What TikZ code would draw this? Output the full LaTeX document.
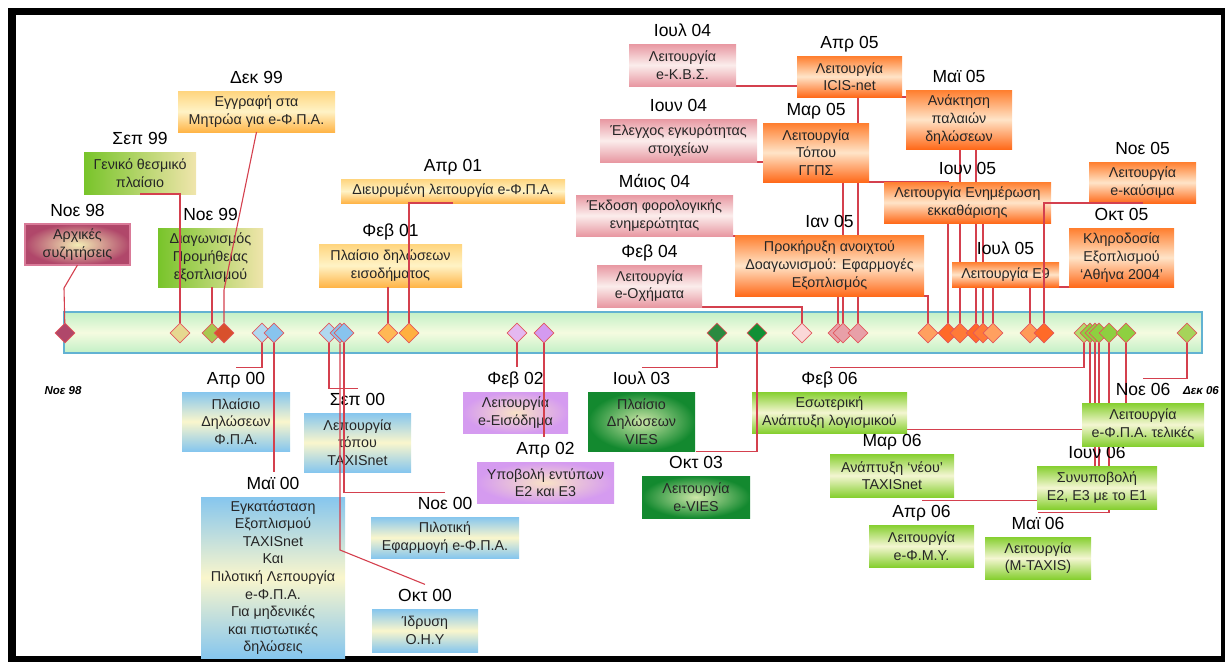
\documentclass[tikz,border=0pt]{standalone}
\usepackage{fontspec}
\setmainfont{Liberation Sans}
\usetikzlibrary{shapes.geometric}

\definecolor{linkred}{HTML}{D4404E}
\definecolor{baredge}{HTML}{62B2D2}
\definecolor{bargreen}{HTML}{C2F0C6}
\definecolor{barpale}{HTML}{F5FBE0}
\definecolor{dmdedge}{HTML}{E2585E}
\definecolor{boxtext}{HTML}{262626}
\definecolor{cblue}{HTML}{86C6EE}
\definecolor{cpale}{HTML}{FAF6CC}
\definecolor{cyeltop}{HTML}{FFD57E}
\definecolor{cyelmid}{HTML}{FFF3C6}
\definecolor{cyelbot}{HTML}{FFB548}
\definecolor{cpink}{HTML}{E898A2}
\definecolor{cpinkmid}{HTML}{FBEDEC}
\definecolor{corgtop}{HTML}{FF7E2E}
\definecolor{corgmid}{HTML}{FFE4C8}
\definecolor{corgbot}{HTML}{FF6A1A}
\definecolor{cgreen}{HTML}{86CF30}
\definecolor{cgreenmid}{HTML}{F4F6D2}
\definecolor{cgyleft}{HTML}{78C42A}
\definecolor{cgyright}{HTML}{F0E5AC}
\definecolor{cpurple}{HTML}{D59BF0}
\definecolor{cpurplein}{HTML}{F9E2C6}
\definecolor{cdkgreen}{HTML}{13892F}
\definecolor{cdkgreenin}{HTML}{CDE7A8}
\definecolor{ccrimson}{HTML}{B0476A}
\definecolor{ccrimsonin}{HTML}{F3EDB5}
\definecolor{ccrimsonedge}{HTML}{D97A98}
\definecolor{dolive}{HTML}{E6D890}
\definecolor{dlime}{HTML}{A8C850}
\definecolor{dred}{HTML}{D8502C}
\definecolor{dsky}{HTML}{B0D8F0}
\definecolor{dblue}{HTML}{88C4EE}
\definecolor{dgold}{HTML}{FFB855}
\definecolor{damber}{HTML}{FFB040}
\definecolor{dlilac}{HTML}{E4B8F0}
\definecolor{dviolet}{HTML}{D49AF0}
\definecolor{dforest}{HTML}{2A8A40}
\definecolor{demerald}{HTML}{119035}
\definecolor{dblush}{HTML}{FAD8D8}
\definecolor{drose}{HTML}{E8A0A8}
\definecolor{dpeach}{HTML}{FFA060}
\definecolor{dflame}{HTML}{FF6A28}
\definecolor{dtangerine}{HTML}{FF7A38}
\definecolor{dapricot}{HTML}{FF9A58}
\definecolor{dpistachio}{HTML}{B4DC6C}
\definecolor{dleaf}{HTML}{8ED040}
\definecolor{dsprout}{HTML}{A6D45A}

\pgfdeclarelayer{bar}
\pgfdeclarelayer{links}
\pgfdeclarelayer{front}
\pgfsetlayers{bar,links,main,front}

\begin{document}
\begin{tikzpicture}[x=1pt,y=-1pt,
  box/.style={rectangle, inner sep=0pt, outer sep=0pt, align=center, text=boxtext,
    font=\fontsize{14.3}{17.6}\selectfont, label distance=-2.7pt},
  wh/.style 2 args={minimum width=#1pt, minimum height=#2pt},
  datelbl/.style={inner xsep=0pt, inner ysep=4pt, text height=12.5pt, text depth=3.7pt,
    font=\fontsize{17.5}{20}\selectfont, text=black},
  bluebox/.style={box, top color=cblue, bottom color=cblue, middle color=cpale},
  yelbox/.style={box, top color=cyeltop, bottom color=cyelbot, middle color=cyelmid},
  pinkbox/.style={box, top color=cpink, bottom color=cpink, middle color=cpinkmid},
  orgbox/.style={box, top color=corgtop, bottom color=corgbot, middle color=corgmid},
  greenbox/.style={box, top color=cgreen, bottom color=cgreen, middle color=cgreenmid},
  gybox/.style={box, left color=cgyleft, right color=cgyright},
  purbox/.style={box, outer color=cpurple, inner color=cpurplein},
  dkgbox/.style={box, outer color=cdkgreen, inner color=cdkgreenin},
  crimbox/.style={box, outer color=ccrimson, inner color=ccrimsonin, draw=ccrimsonedge, line width=1.2pt},
  ev/.style={diamond, aspect=1, minimum width=20pt, minimum height=20pt, inner sep=0pt,
    draw=dmdedge, line width=0.7pt, fill=#1},
  tag/.style={font=\bfseries\itshape\fontsize{11.5}{13}\selectfont, inner sep=0pt},
  link/.style={draw=linkred, line width=1.1pt}]

\useasboundingbox (0,0) rectangle (1225,662);
\fill[black] (8,8) rectangle (1225,15);
\fill[black] (8,8) rectangle (16,662);
\fill[black] (8,656) rectangle (1225,662);
\fill[black] (1221,8) rectangle (1225,662);

\begin{pgfonlayer}{bar}
\draw[draw=baredge, line width=1.6pt, top color=bargreen, bottom color=bargreen, middle color=barpale]
  (64,312) rectangle (1202,353);
\end{pgfonlayer}

\node[ev=ccrimson] (d98n) at (65,333) {};
\node[ev=dolive] (d99s) at (180,333) {};
\node[ev=dlime] (d99n) at (212,333) {};
\node[ev=dred] (d99d) at (224,333) {};
\node[ev=dsky] (d00a) at (262,333) {};
\node[ev=dblue] (d00m) at (274,333) {};
\node[ev=dsky] (d00s) at (329,333) {};
\node[ev=dblue] (d00o) at (340,333) {};
\node[ev=dblue] (d00n) at (344,333) {};
\node[ev=dgold] (d01f) at (388,333) {};
\node[ev=damber] (d01a) at (409,333) {};
\node[ev=dlilac] (d02f) at (517,333) {};
\node[ev=dviolet] (d02a) at (544,333) {};
\node[ev=dforest] (d03j) at (717,333) {};
\node[ev=demerald] (d03o) at (757,333) {};
\node[ev=dblush] (d04f) at (802,333) {};
\node[ev=drose] (d04m) at (838,333) {};
\node[ev=drose] (d04j) at (843,333) {};
\node[ev=drose] (d04l) at (858,333) {};
\node[ev=dpeach] (d05j) at (928,333) {};
\node[ev=dflame] (d05m) at (948,333) {};
\node[ev=dtangerine] (d05a) at (960,333) {};
\node[ev=dflame] (d05y) at (976,333) {};
\node[ev=dtangerine] (d05u) at (983,333) {};
\node[ev=dpeach] (d05l) at (993,333) {};
\node[ev=dapricot] (d05o) at (1030,333) {};
\node[ev=dflame] (d05n) at (1044,333) {};
\node[ev=dpistachio] (d06f) at (1084,333) {};
\node[ev=dleaf] (d06m) at (1090,333) {};
\node[ev=dleaf] (d06u) at (1095,333) {};
\node[ev=dleaf] (d06a) at (1099,333) {};
\node[ev=dleaf] (d06y) at (1109,333) {};
\node[ev=dleaf] (d06n) at (1126,333) {};
\node[ev=dsprout] (d06d) at (1187,333) {};

\node[crimbox, wh={105}{41}, label={[datelbl,name=noe98l]above:Νοε 98}] (noe98) at (77.5,244.5) {Αρχικές\\συζητήσεις};
\node[gybox, wh={112}{42}, label={[datelbl,name=sep99l]above:Σεπ 99}] (sep99) at (140,173) {Γενικό θεσμικό\\πλαίσιο};
\node[gybox, wh={105}{59}, label={[datelbl,name=noe99l]above:Νοε 99}] (noe99) at (210.5,257.5) {Διαγωνισμός\\Προμήθειας\\εξοπλισμού};
\node[yelbox, wh={157}{41}, label={[datelbl,name=dek99l]above:Δεκ 99}] (dek99) at (256.5,111.5) {Εγγραφή στα\\Μητρώα για e-Φ.Π.Α.};
\node[bluebox, wh={108}{59}, label={[datelbl,name=apr00l]above:Απρ 00}] (apr00) at (236,421.5) {Πλαίσιο\\Δηλώσεων\\Φ.Π.Α.};
\node[bluebox, wh={144}{161}, label={[datelbl,name=mai00l]above:Μαϊ 00}] (mai00) at (273,577.5) {Εγκατάσταση\\Εξοπλισμού\\TAXISnet\\Και\\Πιλοτική Λεπουργία\\e-Φ.Π.Α.\\Για μηδενικές\\και πιστωτικές\\δηλώσεις};
\node[bluebox, wh={107}{59}, label={[datelbl,name=sep00l]above:Σεπ 00}] (sep00) at (357.5,442.5) {Λεπουργία\\τόπου\\TAXISnet};
\node[bluebox, wh={106}{43}, label={[datelbl,name=okt00l]above:Οκτ 00}] (okt00) at (425,630.5) {Ίδρυση\\Ο.Η.Υ};
\node[bluebox, wh={148}{41}, label={[datelbl,name=noe00l]above:Νοε 00}] (noe00) at (445,537.5) {Πιλοτική\\Εφαρμογή e-Φ.Π.Α.};
\node[yelbox, wh={143}{43}, label={[datelbl,name=feb01l]above:Φεβ 01}] (feb01) at (390.5,265.5) {Πλαίσιο δηλώσεων\\εισοδήματος};
\node[yelbox, wh={224}{24}, label={[datelbl,name=apr01l]above:Απρ 01}] (apr01) at (453,191) {Διευρυμένη λειτουργία e-Φ.Π.Α.};
\node[purbox, wh={105}{41}, label={[datelbl,name=feb02l]above:Φεβ 02}] (feb02) at (515.5,412.5) {Λειτουργία\\e-Εισόδημα};
\node[purbox, wh={137}{41}, label={[datelbl,name=apr02l]above:Απρ 02}] (apr02) at (545.5,482.5) {Υποβολή εντύπων\\Ε2 και Ε3};
\node[dkgbox, wh={107}{59}, label={[datelbl,name=ioul03l]above:Ιουλ 03}] (ioul03) at (641.5,421.5) {Πλαίσιο\\Δηλώσεων\\VIES};
\node[dkgbox, wh={108}{42}, label={[datelbl,name=okt03l]above:Οκτ 03}] (okt03) at (696,497) {Λειτουργία\\e-VIES};
\node[pinkbox, wh={105}{42}, label={[datelbl,name=feb04l]above:Φεβ 04}] (feb04) at (649.5,286) {Λειτουργία\\e-Οχήματα};
\node[pinkbox, wh={157}{41}, label={[datelbl,name=maios04l]above:Μάιος 04}] (maios04) at (654.5,215.5) {Έκδοση φορολογικής\\ενημερώτητας};
\node[pinkbox, wh={157}{43}, label={[datelbl,name=ioun04l]above:Ιουν 04}] (ioun04) at (678.5,140.5) {Έλεγχος εγκυρότητας\\στοιχείων};
\node[pinkbox, wh={107}{42}, label={[datelbl,name=ioul04l]above:Ιουλ 04}] (ioul04) at (682.5,65) {Λειτουργία\\e-Κ.Β.Σ.};
\node[orgbox, wh={189}{61}, label={[datelbl,name=ian05l]above:Ιαν 05}] (ian05) at (829.5,265.5) {Προκήρυξη ανοιχτού\\Δοαγωνισμού: Εφαρμογές\\Εξοπλισμός};
\node[orgbox, wh={106}{59}, label={[datelbl,name=mar05l]above:Μαρ 05}] (mar05) at (816,152.5) {Λειτουργία\\Τόπου\\ΓΓΠΣ};
\node[orgbox, wh={105}{41}, label={[datelbl,name=apr05l]above:Απρ 05}] (apr05) at (849.5,76.5) {Λειτουργία\\ICIS-net};
\node[orgbox, wh={106}{59}, label={[datelbl,name=mai05l]above:Μαϊ 05}] (mai05) at (959,119.5) {Ανάκτηση\\παλαιών\\δηλώσεων};
\node[orgbox, wh={167}{41}, label={[datelbl,name=ioun05l]above:Ιουν 05}] (ioun05) at (967.5,202.5) {Λειτουργία Ενημέρωση\\εκκαθάρισης};
\node[orgbox, wh={107}{25}, label={[datelbl,name=ioul05l]above:Ιουλ 05}] (ioul05) at (1005.5,274.5) {Λειτουργία Ε9};
\node[orgbox, wh={105}{59}, label={[datelbl,name=okt05l]above:Οκτ 05}] (okt05) at (1121.5,257.5) {Κληροδοσία\\Εξοπλισμού\\`Αθήνα 2004'};
\node[orgbox, wh={107}{41}, label={[datelbl,name=noe05l]above:Νοε 05}] (noe05) at (1142.5,182.5) {Λειτουργία\\e-καύσιμα};
\node[greenbox, wh={155}{41}, label={[datelbl,name=feb06l]above:Φεβ 06}] (feb06) at (829.5,412.5) {Εσωτερική\\Ανάπτυξη λογισμικού};
\node[greenbox, wh={124}{43}, label={[datelbl,name=mar06l]above:Μαρ 06}] (mar06) at (892,475.5) {Ανάπτυξη `νέου'\\TAXISnet};
\node[greenbox, wh={105}{42}, label={[datelbl,name=apr06l]above:Απρ 06}] (apr06) at (921.5,546) {Λειτουργία\\e-Φ.Μ.Υ.};
\node[greenbox, wh={106}{42}, label={[datelbl,name=mai06l]above:Μαϊ 06}] (mai06) at (1038,558) {Λειτουργία\\(M-TAXIS)};
\node[greenbox, wh={120}{43}, label={[datelbl,name=ioun06l]above:Ιουν 06}] (ioun06) at (1097,487.5) {Συνυποβολή\\Ε2, Ε3 με το Ε1};
\node[greenbox, wh={122}{43}, label={[datelbl,name=noe06l]above:Νοε 06}] (noe06) at (1143,424.5) {Λειτουργία\\e-Φ.Π.Α. τελικές};

\node[tag] (tagnoe98) at (63,391) {Νοε 98};
\node[tag] (tagdek06) at (1201,391) {Δεκ 06};

\begin{pgfonlayer}{front}
\draw[link] (noe98.south) -- ++(-13.5,23) -- (d98n);
\draw[link] (sep99.south) -| (d99s);
\draw[link] (noe99.south -| d99n) -- (d99n);
\draw[link] (dek99.south) -- ++(-32.5,158) -- (d99d);
\draw[link] (d00a) |- (apr00l.north);
\draw[link] (d00m) -- (d00m |- mai00l.north);
\draw[link] (d00s) |- (sep00l.north);
\draw[link] (d00o) -- ++(0,217) -- (okt00l.north);
\draw[link] (d00n) |- (noe00l.north);
\draw[link] (feb01.south -| d01f) -- (d01f);
\draw[link] (apr01.south) -| (d01a);
\draw[link] (d02f) -- (d02f |- feb02l.north);
\draw[link] (d02a) -- (d02a |- apr02l.north);
\draw[link] (d03j) |- (ioul03l.north);
\draw[link] (d03o) |- (okt03l.north);
\draw[link] (noe05.south) -| (d05n);
\end{pgfonlayer}

\begin{pgfonlayer}{links}
\draw[link] (feb04.south) -| (d04f);
\draw[link] (maios04.south) -| (d04m);
\draw[link] (ioun04.south) -| (d04j);
\draw[link] (ioul04.south) -| (d04l);
\draw[link] (ian05.south) -| (d05j);
\draw[link] (mar05.south) -| (d05m);
\draw[link] (apr05.south) -| (d05a);
\draw[link] (mai05.south -| d05y) -- (d05y);
\draw[link] (ioun05.south -| d05u) -- (d05u);
\draw[link] (ioul05.south) -| (d05l);
\draw[link] (okt05.south) -| (d05o);
\draw[link] (d06f) |- (feb06l.north);
\draw[link] (d06m) |- (mar06l.north);
\draw[link] (d06u) -- (d06u |- ioun06.north);
\draw[link] (d06a) |- (apr06l.north);
\draw[link] (d06y) |- (mai06l.north);
\draw[link] (d06n) -- (d06n |- noe06.north);
\draw[link] (d06d) |- (noe06l.north);
\end{pgfonlayer}
\end{tikzpicture}
\end{document}
